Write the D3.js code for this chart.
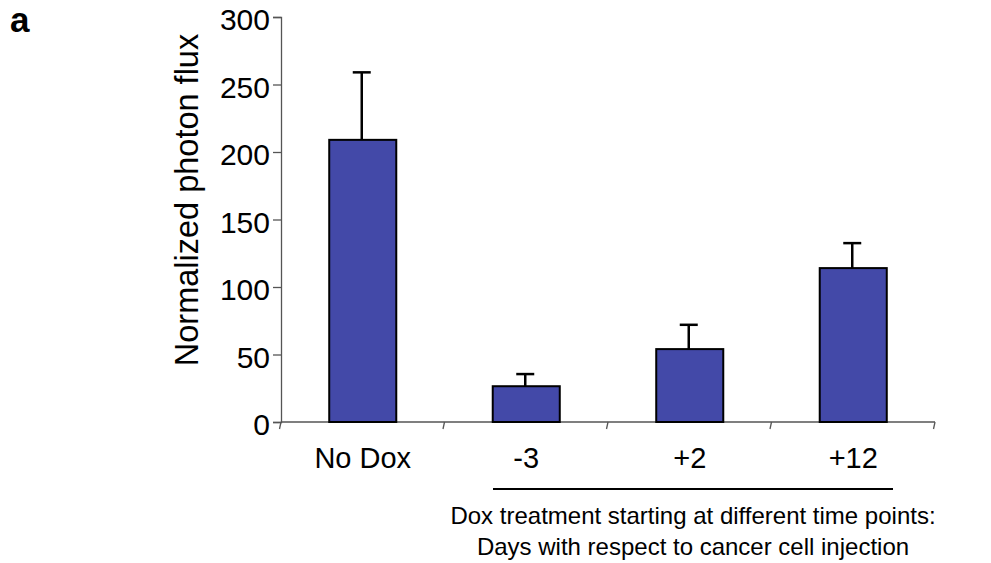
<!DOCTYPE html>
<html>
<head>
<meta charset="utf-8">
<script src="https://cdn.jsdelivr.net/npm/d3@7/dist/d3.min.js"></script>
<style>
  html, body { margin: 0; padding: 0; background: #fff; }
  svg { display: block; }
  svg text { font-family: Arial, "Liberation Sans", Helvetica, sans-serif; fill: #000; }
</style>
</head>
<body>
<svg id="chart" width="991" height="563"></svg>
<script>
// Photon flux per treatment group (mean and upper error)
const categories = ["No Dox", "-3", "+2", "+12"];
const means = [209, 26.5, 54, 114];
const errorTops = [259, 35.5, 72, 132.5];
const yTicks = [0, 50, 100, 150, 200, 250, 300];

(function () {
  const svg = d3.select("#chart");
  const plotLeft = 281, plotRight = 935, plotTop = 17, plotBottom = 422;
  const font = "Arial, 'Liberation Sans', Helvetica, sans-serif";

  const x = d3.scaleBand().domain(categories).range([plotLeft, plotRight]).paddingInner(0.59).paddingOuter(0.295);
  const xTickScale = d3.scaleLinear().domain([0, categories.length]).range([plotLeft, plotRight]);
  const y = d3.scaleLinear().domain([0, 300]).range([plotBottom, plotTop]);

  const axisColor = "#555";

  // Y axis
  const yAxis = svg.append("g")
    .attr("transform", `translate(${plotLeft},0)`)
    .call(d3.axisLeft(y).tickValues(yTicks).tickSize(8).tickPadding(3));
  yAxis.attr("font-family", font).attr("font-size", 30);
  yAxis.select(".domain").attr("stroke", axisColor).attr("stroke-width", 1.3);
  yAxis.selectAll(".tick line").attr("stroke", axisColor).attr("stroke-width", 1.3);
  yAxis.selectAll(".tick text").attr("dy", "0.43em").attr("fill", "#000");

  // X axis baseline with category separator ticks
  svg.append("line")
    .attr("x1", plotLeft).attr("x2", plotRight).attr("y1", plotBottom).attr("y2", plotBottom)
    .attr("stroke", axisColor).attr("stroke-width", 1.3);
  svg.selectAll(".xsep").data(d3.range(categories.length + 1)).enter().append("line")
    .attr("class", "xsep")
    .attr("x1", d => xTickScale(d)).attr("x2", d => xTickScale(d) - 1.5)
    .attr("y1", plotBottom).attr("y2", plotBottom + 7)
    .attr("stroke", axisColor).attr("stroke-width", 1.3);

  // Category labels
  svg.selectAll(".xlab").data(categories).enter().append("text")
    .attr("x", d => x(d) + x.bandwidth() / 2)
    .attr("y", 468)
    .attr("text-anchor", "middle")
    .attr("font-size", 29)
    .text(d => d);

  // Error bars (upper only)
  const capHalf = 9;
  const cx = d => x(d) + x.bandwidth() / 2 - 1;
  svg.selectAll(".err").data(categories).enter().append("line")
    .attr("x1", cx).attr("x2", cx)
    .attr("y1", (d, i) => y(means[i])).attr("y2", (d, i) => y(errorTops[i]))
    .attr("stroke", "#000").attr("stroke-width", 2.5);
  svg.selectAll(".cap").data(categories).enter().append("line")
    .attr("x1", d => cx(d) - capHalf).attr("x2", d => cx(d) + capHalf)
    .attr("y1", (d, i) => y(errorTops[i])).attr("y2", (d, i) => y(errorTops[i]))
    .attr("stroke", "#000").attr("stroke-width", 2.5);

  // Bars
  svg.selectAll(".bar").data(categories).enter().append("rect")
    .attr("x", d => x(d)).attr("width", x.bandwidth())
    .attr("y", (d, i) => y(means[i])).attr("height", (d, i) => y(0) - y(means[i]))
    .attr("fill", "#4349A8").attr("stroke", "#000").attr("stroke-width", 2);

  // Y axis title
  svg.append("text")
    .attr("transform", `translate(198,200) rotate(-90)`)
    .attr("text-anchor", "middle")
    .attr("font-size", 32.5)
    .text("Normalized photon flux");

  // Bracket grouping the Dox treatment categories
  svg.append("line")
    .attr("x1", 493).attr("x2", 893).attr("y1", 489).attr("y2", 489)
    .attr("stroke", "#000").attr("stroke-width", 2);

  svg.append("text").attr("x", 693).attr("y", 524).attr("text-anchor", "middle")
    .attr("font-size", 24).text("Dox treatment starting at different time points:");
  svg.append("text").attr("x", 693).attr("y", 555).attr("text-anchor", "middle")
    .attr("font-size", 24).text("Days with respect to cancer cell injection");

  // Panel letter
  svg.append("text").attr("x", 10).attr("y", 32).attr("font-size", 35).attr("font-weight", "bold").text("a");
})();
</script>
</body>
</html>
